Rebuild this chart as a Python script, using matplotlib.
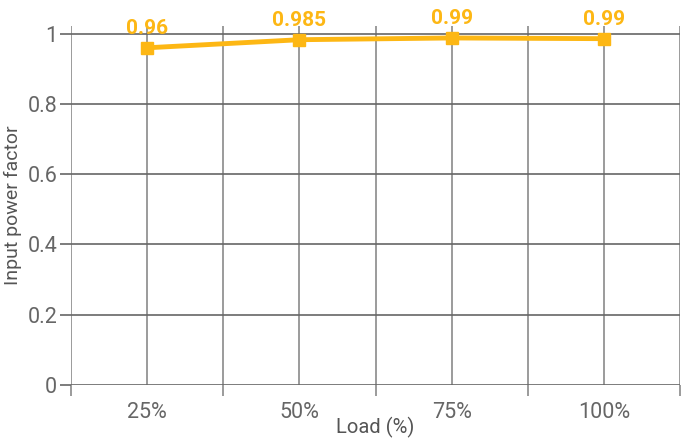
import matplotlib.pyplot as plt
import numpy as np

loads = ['25%', '50%', '75%', '100%']
power_factor = [0.96, 0.983, 0.988, 0.986]
value_labels = ['0.96', '0.985', '0.99', '0.99']
y_ticks = [0, 0.2, 0.4, 0.6, 0.8, 1]

orange = '#FDB714'
text_gray = '#666666'
grid_gray = '#8a8a8a'

plt.rcParams['font.family'] = ['Roboto', 'DejaVu Sans']

fig = plt.figure(figsize=(6.81, 4.38), dpi=100)
ax = fig.add_axes([0.1043, 0.121, 0.8942, 0.8196])

x = np.arange(len(loads))

# grid: lines at each category and halfway between them
for xv in np.arange(-0.5, len(loads), 0.5):
    ax.axvline(xv, color=grid_gray, lw=1.2, zorder=1)
for yv in y_ticks:
    ax.axhline(yv, color='#666666', lw=1.2, zorder=1)

ax.plot(x, power_factor, color=orange, lw=3.5, marker='s', markersize=8.5,
        zorder=3)
for xi, yi, lab in zip(x, power_factor, value_labels):
    ax.annotate(lab, (xi, yi), xytext=(0, 7), textcoords='offset points',
                ha='center', va='bottom', color=orange, fontsize=15,
                fontweight='bold', zorder=4)

ax.set_xlim(-0.5, len(loads) - 0.5)
ax.set_ylim(0, 1.022)

ax.set_xticks(np.arange(-0.5, len(loads), 1))
ax.set_xticklabels([])
ax.set_xticks(x, minor=True)
ax.set_xticklabels(loads, minor=True)
ax.tick_params(axis='x', which='major', length=8, width=1.2, color=grid_gray)
ax.tick_params(axis='x', which='minor', length=0, pad=12, labelsize=15.5,
               labelcolor=text_gray)

ax.set_yticks(y_ticks)
ax.set_yticklabels(['0', '0.2', '0.4', '0.6', '0.8', '1'])
ax.tick_params(axis='y', length=8, width=1.2, color='#666666', labelsize=15.5,
               labelcolor=text_gray, pad=2)

for s in ax.spines.values():
    s.set_visible(False)

ax.set_xlabel('Load (%)', fontsize=14.5, color='#555555', labelpad=-4)
ax.set_ylabel('Input power factor', fontsize=14, color='#555555', labelpad=4)

fig.savefig('out.png', dpi=100)
